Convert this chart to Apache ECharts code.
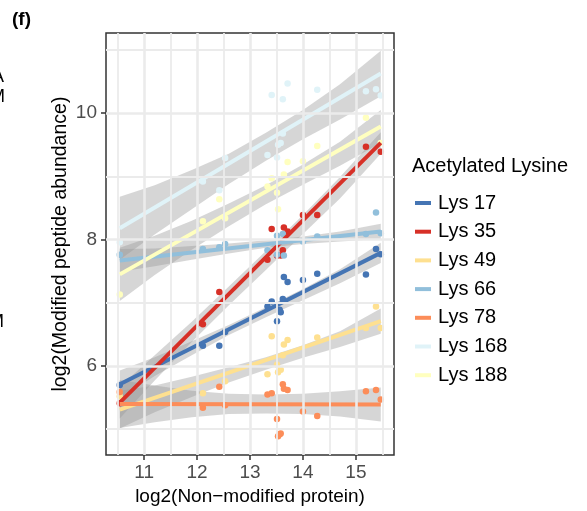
<!DOCTYPE html>
<html>
<head>
<meta charset="utf-8">
<script src="https://cdn.jsdelivr.net/npm/echarts@6/dist/echarts.min.js"></script>
<style>
  html, body { margin: 0; padding: 0; background: #fff; }
  #chart { width: 587px; height: 511px; }
</style>
</head>
<body>
<div id="chart"></div>
<script>
// axis breaks
const xBreaks = [11, 12, 13, 14, 15]
const xMinor = [10.5, 11.5, 12.5, 13.5, 14.5, 15.5]
const yBreaks = [6, 8, 10]
const yMinor = [5, 7, 9, 11]

const lysines = ['Lys 17', 'Lys 35', 'Lys 49', 'Lys 66', 'Lys 78', 'Lys 168', 'Lys 188']
const colors = ['#4575B4', '#D73027', '#FEE090', '#91BFDB', '#FC8D59', '#E0F3F8', '#FFFFBF']

// observed points [log2 protein, log2 modified peptide]
const lys17 = [[10.54, 5.70], [12.11, 6.32], [12.42, 6.32], [12.53, 6.54], [13.33, 6.94], [13.41, 7.02], [13.51, 6.71], [13.56, 6.89], [13.58, 6.85], [13.62, 7.06], [13.64, 7.41], [13.71, 7.33], [14.00, 7.36], [14.27, 7.46], [15.19, 7.45], [15.38, 7.85], [15.47, 7.77]]
const lys35 = [[10.54, 5.41], [12.11, 6.66], [12.42, 7.17], [13.33, 7.68], [13.41, 8.17], [13.51, 7.75], [13.58, 7.75], [13.62, 7.83], [13.64, 8.19], [13.71, 8.13], [14.00, 8.39], [14.27, 8.39], [15.19, 9.47], [15.47, 9.39]]
const lys49 = [[10.54, 5.52], [12.11, 5.57], [12.53, 5.76], [13.33, 5.87], [13.41, 6.47], [13.51, 6.02], [13.53, 5.90], [13.58, 5.94], [13.62, 6.17], [13.64, 6.34], [13.71, 6.41], [14.27, 6.45], [15.19, 6.60], [15.38, 6.94], [15.47, 6.60]]
const lys66 = [[10.54, 7.76], [12.11, 7.85], [12.42, 7.88], [12.53, 7.93], [13.33, 7.83], [13.51, 8.06], [13.51, 7.76], [13.62, 8.09], [13.64, 7.75], [14.00, 7.97], [14.27, 8.05], [15.19, 8.09], [15.38, 8.43], [15.47, 8.10]]
const lys78 = [[10.54, 5.59], [12.11, 5.34], [12.42, 5.67], [12.53, 5.38], [13.33, 5.55], [13.41, 5.57], [13.51, 5.16], [13.53, 4.89], [13.56, 4.92], [13.58, 4.93], [13.62, 5.71], [13.64, 5.64], [13.71, 5.62], [14.00, 5.28], [14.27, 5.21], [15.19, 5.60], [15.38, 5.62], [15.47, 5.47]]
const lys168 = [[10.54, 7.96], [12.11, 8.92], [12.42, 8.78], [12.53, 9.29], [13.33, 9.34], [13.41, 10.29], [13.51, 9.30], [13.53, 9.50], [13.58, 9.53], [13.62, 9.68], [13.62, 10.22], [13.71, 10.47], [14.27, 10.37], [15.19, 10.35], [15.38, 10.38], [15.47, 10.28]]
const lys188 = [[10.54, 7.13], [12.11, 8.29], [12.42, 8.64], [12.53, 8.34], [13.33, 8.84], [13.41, 8.97], [13.51, 8.74], [13.53, 8.48], [13.64, 9.03], [13.71, 9.23], [14.00, 9.24], [14.27, 9.48], [15.19, 9.93], [15.47, 9.53]]

// fitted lines (ends)
const fitX = [10.54, 15.47]
const fit17 = [5.71, 7.79]
const fit35 = [5.42, 9.53]
const fit49 = [5.31, 6.71]
const fit66 = [7.67, 8.13]
const fit78 = [5.40, 5.39]
const fit168 = [8.18, 10.63]
const fit188 = [7.45, 9.79]

// confidence bands read at these x
const bandX = [10.54, 11.2, 11.9, 12.6, 13.3, 14.0, 14.7, 15.47]
const lo17 = [5.49, 5.84, 6.17, 6.49, 6.77, 7.04, 7.31, 7.63]
const hi17 = [5.93, 6.14, 6.39, 6.65, 6.93, 7.22, 7.53, 7.95]
const lo35 = [5.17, 5.77, 6.38, 6.96, 7.52, 8.09, 8.65, 9.36]
const hi35 = [5.67, 6.17, 6.70, 7.26, 7.82, 8.39, 8.99, 9.70]
const lo49 = [5.01, 5.27, 5.51, 5.74, 5.94, 6.13, 6.30, 6.51]
const hi49 = [5.61, 5.69, 5.83, 5.98, 6.14, 6.33, 6.55, 6.91]
const lo66 = [7.49, 7.58, 7.68, 7.78, 7.87, 7.93, 7.97, 8.01]
const hi66 = [7.85, 7.86, 7.90, 7.94, 7.99, 8.05, 8.13, 8.25]
const lo78 = [5.02, 5.11, 5.19, 5.24, 5.25, 5.24, 5.20, 5.12]
const hi78 = [5.78, 5.69, 5.61, 5.56, 5.55, 5.56, 5.60, 5.66]
const lo168 = [7.68, 8.08, 8.48, 8.88, 9.25, 9.59, 9.90, 10.27]
const hi168 = [8.68, 8.86, 9.10, 9.36, 9.69, 10.05, 10.46, 10.99]
const lo188 = [7.03, 7.44, 7.84, 8.21, 8.56, 8.87, 9.17, 9.53]
const hi188 = [7.87, 8.06, 8.30, 8.57, 8.86, 9.19, 9.55, 10.05]

const points = [lys17, lys35, lys49, lys66, lys78, lys168, lys188]
const fits = [fit17, fit35, fit49, fit66, fit78, fit168, fit188]
const lows = [lo17, lo35, lo49, lo66, lo78, lo168, lo188]
const highs = [hi17, hi35, hi49, hi66, hi78, hi168, hi188]

const font = '"Liberation Sans", Arial, Helvetica, sans-serif'
const chart = echarts.init(document.getElementById('chart'), null, { renderer: 'canvas' })

const gridLines = (values, key, width) => values.map(v => ({
  [key]: v,
  lineStyle: { color: '#EBEBEB', width: width, type: 'solid' }
}))

const series = [
  {
    name: 'grid',
    type: 'line',
    data: [],
    silent: true,
    markLine: {
      silent: true,
      symbol: 'none',
      label: { show: false },
      animation: false,
      data: [
        ...gridLines(xMinor, 'xAxis', 1.8),
        ...gridLines(yMinor, 'yAxis', 1.8),
        ...gridLines(xBreaks, 'xAxis', 2.6),
        ...gridLines(yBreaks, 'yAxis', 2.6)
      ]
    }
  }
]

points.forEach((pts, i) => {
  series.push({
    name: lysines[i] + ' obs',
    type: 'scatter',
    data: pts,
    symbolSize: 6.5,
    itemStyle: { color: colors[i], opacity: 1 },
    silent: true
  })
})

lysines.forEach((name, i) => {
  series.push({
    name: name + ' ci',
    type: 'custom',
    silent: true,
    data: [[bandX[0], lows[i][0]]],
    renderItem: (params, api) => {
      const pts = []
      bandX.forEach((x, k) => pts.push(api.coord([x, lows[i][k]])))
      for (let k = bandX.length - 1; k >= 0; k--) pts.push(api.coord([bandX[k], highs[i][k]]))
      return {
        type: 'polygon',
        shape: { points: pts },
        style: { fill: 'rgba(153,153,153,0.4)' }
      }
    }
  })
  series.push({
    name: name,
    type: 'line',
    data: fitX.map((x, k) => [x, fits[i][k]]),
    showSymbol: false,
    symbol: 'circle',
    silent: true,
    lineStyle: { color: colors[i], width: 4 },
    itemStyle: { color: colors[i] }
  })
})

const option = {
  animation: false,
  textStyle: { fontFamily: font },
  grid: {
    left: 106,
    right: 193,
    top: 33,
    bottom: 55,
    show: true,
    backgroundColor: '#ffffff',
    borderColor: '#333333',
    borderWidth: 1.5
  },
  xAxis: {
    type: 'value',
    min: 10.28,
    max: 15.72,
    name: 'log2(Non\u2212modified protein)',
    nameLocation: 'middle',
    nameGap: 31,
    nameTextStyle: { color: '#000', fontSize: 19, fontFamily: font },
    axisLine: { show: false },
    splitLine: { show: false },
    axisTick: { show: true, length: 5, customValues: xBreaks, lineStyle: { color: '#333', width: 1.5 } },
    axisLabel: { customValues: xBreaks, color: '#4D4D4D', fontSize: 19, margin: 8, fontFamily: font }
  },
  yAxis: {
    type: 'value',
    min: 4.59,
    max: 11.27,
    name: 'log2(Modified peptide abundance)',
    nameLocation: 'middle',
    nameRotate: 90,
    nameGap: 35,
    nameTextStyle: { color: '#000', fontSize: 19.5, fontFamily: font },
    axisLine: { show: false },
    splitLine: { show: false },
    axisTick: { show: true, length: 5, customValues: yBreaks, lineStyle: { color: '#333', width: 1.5 } },
    axisLabel: { customValues: yBreaks, color: '#4D4D4D', fontSize: 19, margin: 9, fontFamily: font }
  },
  legend: {
    orient: 'vertical',
    left: 410,
    top: 188,
    data: lysines,
    icon: 'rect',
    itemWidth: 16,
    itemHeight: 4,
    itemGap: 8.7,
    selectedMode: false,
    textStyle: { color: '#000', fontSize: 20, lineHeight: 20, fontFamily: font, padding: [0, 0, 0, 2] }
  },
  graphic: [
    { type: 'text', left: 412, top: 156, style: { text: 'Acetylated Lysine', fill: '#000', font: '20px ' + font } },
    { type: 'text', left: 12, top: 10, style: { text: '(f)', fill: '#000', font: 'bold 19px ' + font } },
    { type: 'text', left: -8, top: 68, style: { text: 'A', fill: '#000', font: '18px ' + font } },
    { type: 'text', left: -10, top: 88, style: { text: 'M', fill: '#000', font: '18px ' + font } },
    { type: 'text', left: -11, top: 313, style: { text: 'M', fill: '#000', font: '18px ' + font } }
  ],
  series: series
}

chart.setOption(option)
window.addEventListener('resize', () => chart.resize())
</script>
</body>
</html>
